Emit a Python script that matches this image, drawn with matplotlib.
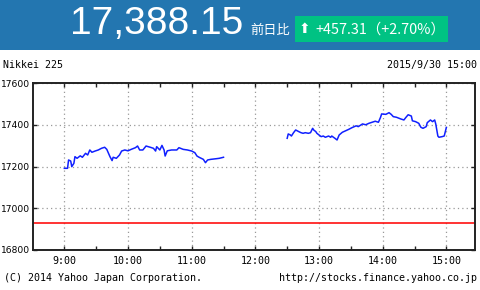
import matplotlib
matplotlib.use('Agg')
import matplotlib.pyplot as plt
from matplotlib.patches import Rectangle

# Nikkei 225 intraday, 2015/9/30
am_times  = ['9:00','9:03','9:04','9:06','9:07','9:09','9:10','9:12','9:15','9:17',
             '9:20','9:22','9:24','9:26','9:29','9:32','9:35','9:38','9:40','9:43',
             '9:45','9:46','9:49','9:52','9:54','9:57','10:00','10:03','10:07','10:09',
             '10:11','10:14','10:17','10:21','10:24','10:26','10:27','10:30','10:32','10:34',
             '10:35','10:37','10:41','10:46','10:48','10:52','10:56','11:00','11:03','11:05',
             '11:07','11:11','11:13','11:15','11:18','11:23','11:26','11:30']
am_values = [17192,17192,17232,17227,17200,17216,17248,17240,17252,17245,
             17264,17256,17280,17269,17275,17280,17288,17293,17283,17248,
             17229,17245,17240,17256,17275,17280,17276,17283,17291,17299,
             17280,17280,17299,17293,17288,17275,17296,17280,17302,17280,
             17251,17276,17280,17280,17291,17283,17280,17275,17267,17251,
             17245,17235,17219,17232,17235,17238,17240,17245]

pm_times  = ['12:30','12:31','12:33','12:34','12:36','12:38','12:41','12:43','12:45','12:47',
             '12:50','12:52','12:54','12:55','12:57','12:58','13:00','13:02','13:04','13:06',
             '13:09','13:11','13:12','13:15','13:17','13:19','13:22','13:25','13:28','13:31',
             '13:35','13:37','13:41','13:44','13:47','13:50','13:53','13:56','13:58','13:59',
             '14:03','14:06','14:08','14:10','14:13','14:17','14:20','14:22','14:24','14:27',
             '14:28','14:31','14:34','14:36','14:38','14:41','14:42','14:45','14:47','14:49',
             '14:50','14:52','14:53','14:56','14:58','15:00']
pm_values = [17336,17357,17352,17347,17363,17376,17368,17363,17360,17363,
             17360,17363,17384,17376,17368,17360,17352,17344,17347,17341,
             17347,17341,17347,17336,17328,17352,17365,17372,17379,17387,
             17396,17392,17405,17401,17408,17413,17418,17413,17437,17453,
             17451,17459,17451,17440,17437,17429,17424,17437,17449,17443,
             17420,17416,17408,17389,17384,17392,17411,17424,17416,17424,
             17405,17347,17341,17344,17347,17388]

prev_close = 16930.84
price_text = '17,388.15'
change_text = '+457.31（+2.70%）'
x_ticks = ['9:00','10:00','11:00','12:00','13:00','14:00','15:00']
y_ticks = [16800, 17000, 17200, 17400, 17600]

def to_min(s):
    h, m = s.split(':')
    return int(h)*60 + int(m)

W, H = 480, 290
fig = plt.figure(figsize=(W/100, H/100), dpi=100)
fig.patch.set_facecolor('white')

# header band
fig.patches.append(Rectangle((0, 1-50/H), 1, 50/H, transform=fig.transFigure,
                             facecolor='#2376b0', edgecolor='none', zorder=0))
fig.patches.append(Rectangle((295/W, 1-42/H), 153/W, 26/H, transform=fig.transFigure,
                             facecolor='#00c283', edgecolor='none', zorder=1))
fig.text(157/W, 1-24/H, price_text, color='white', fontsize=28,
         family='Liberation Sans', ha='center', va='center')
fig.text(250/W, 1-30/H, '前日比', color='white', fontsize=9.5,
         family=['Noto Sans CJK JP', 'DejaVu Sans'], ha='left', va='center')
fig.text(299/W, 1-29/H, '⬆', color='white', fontsize=10,
         family='DejaVu Sans', ha='left', va='center')
fig.text(315/W, 1-29.5/H, change_text, color='white', fontsize=10.4,
         family=['Noto Sans CJK JP', 'DejaVu Sans'], ha='left', va='center')

mono = 'DejaVu Sans Mono'
fig.text(3/W, 1-65/H, 'Nikkei 225', fontsize=7.2, family=mono, va='center', ha='left')
fig.text(477/W, 1-65/H, '2015/9/30 15:00', fontsize=7.2, family=mono, va='center', ha='right')
fig.text(4/W, 1-278/H, '(C) 2014 Yahoo Japan Corporation.', fontsize=7.2, family=mono,
         va='center', ha='left')
fig.text(477/W, 1-278/H, 'http://stocks.finance.yahoo.co.jp', fontsize=7.2, family=mono,
         va='center', ha='right')

# chart
ax = fig.add_axes([32.5/W, 40/H, 442.5/W, 166.7/H])
ax.plot([to_min(t) for t in am_times], am_values, color='#1020ff', lw=1.1)
ax.plot([to_min(t) for t in pm_times], pm_values, color='#1020ff', lw=1.1)
ax.axhline(prev_close, color='#ff1010', lw=1.2)

ax.set_xlim(510, 927)
ax.set_ylim(16800, 17600)
ax.set_xticks([to_min(t) for t in x_ticks])
ax.set_xticklabels(x_ticks, family=mono, fontsize=7.2)
ax.set_xticks(range(570, 930, 60), minor=True)
ax.set_yticks(y_ticks)
ax.set_yticklabels([str(v) for v in y_ticks], fontsize=6.6)
ax.tick_params(which='both', direction='in', length=3, width=1, top=True, right=True,
               color='#222222')
ax.tick_params(axis='x', pad=4)
ax.tick_params(axis='y', pad=2)
ax.grid(True, which='major', ls=(0, (1, 2.5)), color='#999999', lw=0.9)
for s in ax.spines.values():
    s.set_linewidth(1.4)
    s.set_color('#222222')

fig.savefig('out.png', dpi=100)
